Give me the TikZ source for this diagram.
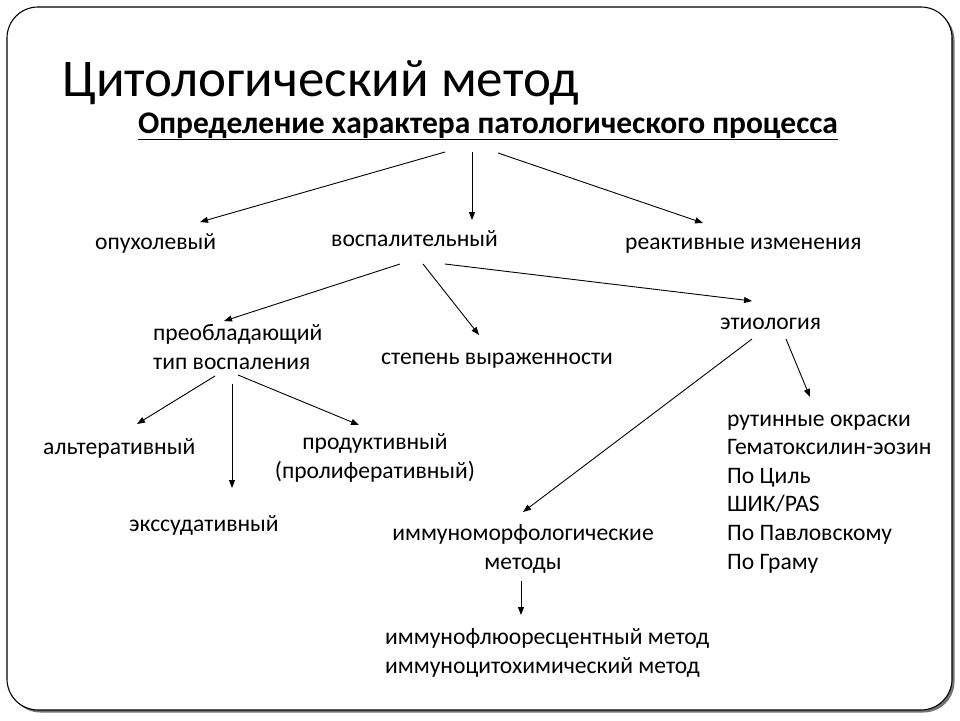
\documentclass[tikz,border=0pt]{standalone}
\usepackage{fontspec}
\setmainfont{Carlito}
\usetikzlibrary{arrows.meta}
\begin{document}
\begin{tikzpicture}[x=1pt,y=-1pt,
  txt/.style={inner sep=0pt, font=\fontsize{23.6}{28.6}\selectfont},
  arr/.style={line width=0.9pt, -{Triangle[length=8pt,width=6pt]}},
  frame/.style={draw=black, line width=1.1pt, fill=white, rounded corners=31pt}
]
\useasboundingbox (0,0) rectangle (960,720);
\fill[white] (0,0) rectangle (960,720);
% frame with shadow
\fill[black!55, rounded corners=31pt] (9.5,9.5) rectangle (954.5,712.5);
\path[frame] (7,7) rectangle (952,710);

% title
\node[inner sep=0pt, anchor=base west, font=\fontsize{53}{60}\selectfont] (title) at (62,96) {Цитологический метод};
\node[inner sep=0pt, anchor=base, font=\fontsize{31.5}{36}\selectfont\bfseries] (sub) at (488,133) {\underline{Определение характера патологического процесса}};

% level 1
\node[txt, anchor=base west] (opuh) at (95,249) {опухолевый};
\node[txt, anchor=base west] (vosp) at (331,246) {воспалительный};
\node[txt, anchor=base west] (reakt) at (625,249) {реактивные изменения};

% level 2 (base anchor = last line)
\node[txt, anchor=base west, align=left] (preobl) at (153,369) {преобладающий\\тип воспаления};
\node[txt, anchor=base west] (stepen) at (381,364) {степень выраженности};
\node[txt, anchor=base west] (etiol) at (720,329) {этиология};

% level 3
\node[txt, anchor=base west] (alter) at (43,454) {альтеративный};
\node[txt, anchor=base, align=center] (prod) at (375,478) {продуктивный\\(пролиферативный)};
\node[txt, anchor=base west] (exsud) at (129,531) {экссудативный};
\node[txt, anchor=base, align=center] (immorf) at (523,569) {иммуноморфологические\\методы};
\node[txt, anchor=base west, align=left] (imfl) at (385,673) {иммунофлюоресцентный метод\\иммуноцитохимический метод};
\node[txt, anchor=base west, align=left] (rutin) at (727,569) {рутинные окраски\\Гематоксилин-эозин\\По Циль\\ШИК/PAS\\По Павловскому\\По Граму};

% connector end points
\coordinate (sub-a) at (445,152);
\coordinate (sub-b) at (472,152);
\coordinate (sub-c) at (498,153);
\coordinate (opuh-t) at (200,222);
\coordinate (vosp-t) at (472,220);
\coordinate (reakt-t) at (703,223);
\coordinate (vosp-a) at (400,264);
\coordinate (vosp-b) at (423,264);
\coordinate (vosp-c) at (445,264);
\coordinate (preobl-t) at (224,321);
\coordinate (stepen-t) at (479,335);
\coordinate (etiol-t) at (752,301);
\coordinate (etiol-a) at (752,339);
\coordinate (etiol-b) at (786,339);
\coordinate (immorf-t) at (523,512);
\coordinate (rutin-t) at (810,397);
\coordinate (immorf-b) at (521,581);
\coordinate (imfl-t) at (521,615);
\coordinate (preobl-a) at (215,376);
\coordinate (preobl-b) at (232,384);
\coordinate (preobl-c) at (238,375);
\coordinate (alter-t) at (137,424);
\coordinate (exsud-t) at (232,488);
\coordinate (prod-t) at (359,425);

\draw[arr] (sub-a) -- (opuh-t);
\draw[arr] (sub-b) -- (vosp-t);
\draw[arr] (sub-c) -- (reakt-t);
\draw[arr] (vosp-a) -- (preobl-t);
\draw[arr] (vosp-b) -- (stepen-t);
\draw[arr] (vosp-c) -- (etiol-t);
\draw[arr] (etiol-a) -- (immorf-t);
\draw[arr] (etiol-b) -- (rutin-t);
\draw[arr] (immorf-b) -- (imfl-t);
\draw[arr] (preobl-a) -- (alter-t);
\draw[arr] (preobl-b) -- (exsud-t);
\draw[arr] (preobl-c) -- (prod-t);
\end{tikzpicture}
\end{document}
